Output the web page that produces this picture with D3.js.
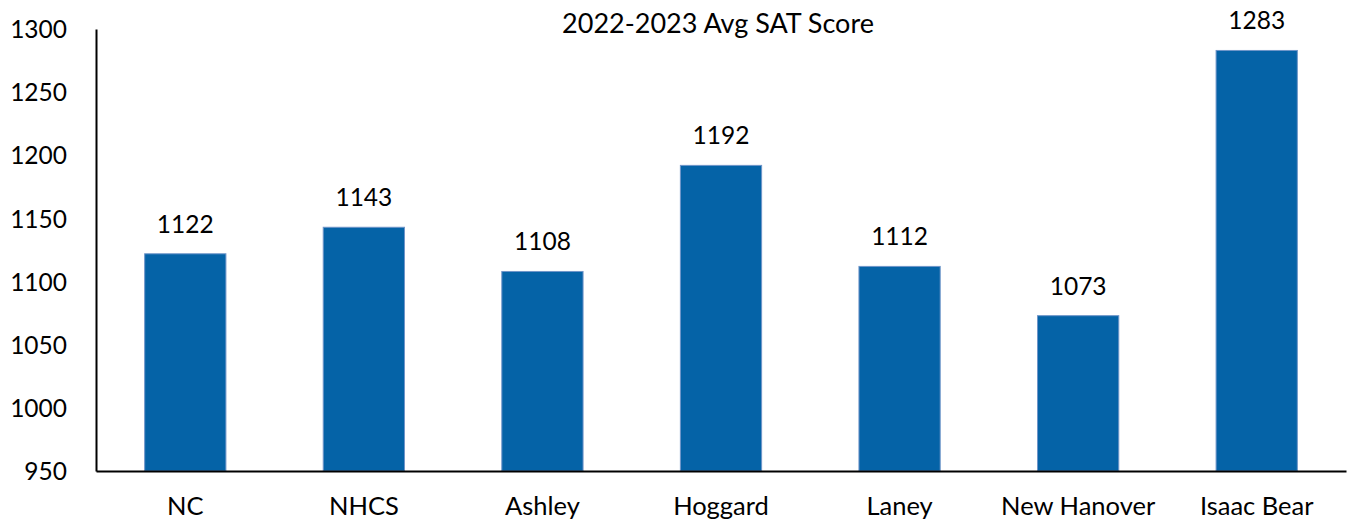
<!DOCTYPE html>
<html>
<head>
<meta charset="utf-8">
<script src="https://cdn.jsdelivr.net/npm/d3@7"></script>
<style>
  body { margin: 0; background: #fff; }
  text { font-family: "Lato", "Open Sans", sans-serif; fill: #000; }
</style>
</head>
<body>
<div id="chart"></div>
<script>
// data
var schools = ["NC", "NHCS", "Ashley", "Hoggard", "Laney", "New Hanover", "Isaac Bear"];
var scores = [1122, 1143, 1108, 1192, 1112, 1073, 1283];
var yTicks = [950, 1000, 1050, 1100, 1150, 1200, 1250, 1300];
var title = "2022-2023 Avg SAT Score";

var W = 1349, H = 521;
var margin = {top: 29, right: 3, bottom: 50, left: 96};
var width = W - margin.left - margin.right,
    height = H - margin.top - margin.bottom;

var svg = d3.select("#chart")
  .append("svg")
  .attr("width", W)
  .attr("height", H)
  .append("g")
  .attr("transform", "translate(" + margin.left + "," + margin.top + ")");

var x = d3.scaleBand()
  .domain(schools)
  .range([0, width])
  .paddingInner(0.545)
  .paddingOuter(0.2725);

var y = d3.scaleLinear()
  .domain([950, 1300])
  .range([height, 0]);

// bars
svg.selectAll(".bar")
  .data(schools)
  .enter()
  .append("rect")
  .attr("class", "bar")
  .attr("x", function(d) { return x(d); })
  .attr("width", x.bandwidth())
  .attr("y", function(d, i) { return y(scores[i]); })
  .attr("height", function(d, i) { return height - y(scores[i]); })
  .style("fill", "#0563a7")
  .style("stroke", "#6f95c9")
  .style("stroke-width", 1);

// value labels
svg.selectAll(".val")
  .data(schools)
  .enter()
  .append("text")
  .attr("class", "val")
  .attr("text-anchor", "middle")
  .attr("x", function(d) { return x(d) + x.bandwidth() / 2; })
  .attr("y", function(d, i) { return y(scores[i]) - 21; })
  .style("font-size", "24.5px")
  .text(function(d, i) { return scores[i]; });

// y axis
var yAxis = svg.append("g")
  .call(d3.axisLeft(y).tickValues(yTicks).tickSize(0).tickPadding(29).tickFormat(d3.format("d")));
yAxis.select(".domain").attr("stroke", "#000").attr("stroke-width", 2);
yAxis.selectAll("text").style("font-size", "24.5px").attr("dy", "0.35em");

// x axis
var xAxis = svg.append("g")
  .attr("transform", "translate(0," + height + ")")
  .call(d3.axisBottom(x).tickSize(0).tickPadding(26));
xAxis.select(".domain").attr("stroke", "#000").attr("stroke-width", 2);
xAxis.selectAll("text").style("font-size", "25.5px");

// title
svg.append("text")
  .attr("text-anchor", "middle")
  .attr("x", 622)
  .attr("y", 4)
  .style("font-size", "27px")
  .text(title);
</script>
</body>
</html>
